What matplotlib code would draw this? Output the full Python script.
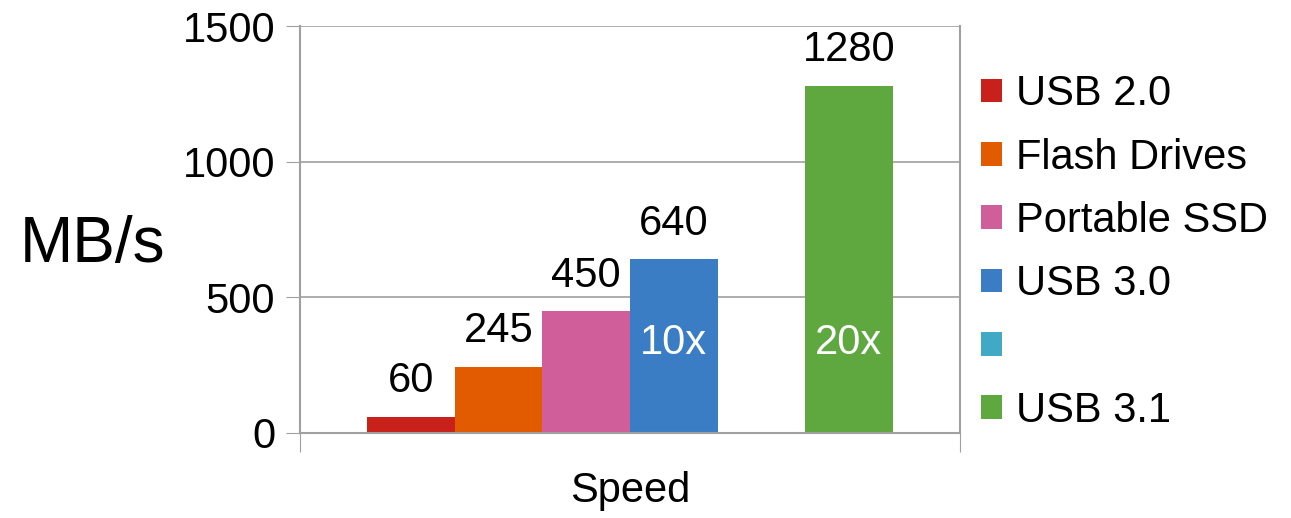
import matplotlib.pyplot as plt

plt.rcParams['font.family'] = ['Liberation Sans', 'DejaVu Sans']

series = ['USB 2.0', 'Flash Drives', 'Portable SSD', 'USB 3.0', '', 'USB 3.1']
speeds = [60, 245, 450, 640, 0, 1280]
value_labels = ['60', '245', '450', '640', '', '1280']
inner_labels = ['', '', '', '10x', '', '20x']
colors = ['#C8201A', '#E35B00', '#CF5E9B', '#3A7DC5', '#41A9C6', '#5FA83F']
category = 'Speed'

fig = plt.figure(figsize=(12.91, 5.18), dpi=100)
ax = fig.add_axes([0.2324, 0.1641, 0.5112, 0.7857])

width = 0.1327
n = len(series)
for i, (name, val, col) in enumerate(zip(series, speeds, colors)):
    x = (i - (n - 1) / 2) * width
    bars = ax.bar(x, val, width=width, color=col, label=name if name else ' ', zorder=3)
    if value_labels[i]:
        ax.bar_label(bars, labels=[value_labels[i]], padding=11, fontsize=30)
    if inner_labels[i]:
        ax.text(x, 330, inner_labels[i], ha='center', va='center',
                color='white', fontsize=30, zorder=4)

ax.set_xlim(-0.5, 0.5)
ax.set_ylim(0, 1500)
ax.set_yticks([0, 500, 1000, 1500])
ax.tick_params(axis='y', labelsize=30, length=10, color='#A0A0A0', pad=8)
ax.set_xticks([-0.5, 0.5])
ax.set_xticklabels(['', ''])
ax.tick_params(axis='x', length=14, color='#A0A0A0')
ax.set_xlabel(category, fontsize=30, labelpad=10)
ax.set_ylabel('MB/s', fontsize=46, rotation=0, va='center', ha='center')
ax.yaxis.set_label_coords(-0.314, 0.462)
ax.grid(axis='y', color='#A0A0A0', linewidth=1.2, zorder=0)

for side in ['left', 'right', 'bottom']:
    ax.spines[side].set_color('#A0A0A0')
    ax.spines[side].set_linewidth(1.5)
ax.spines['top'].set_visible(False)
ax.spines['bottom'].set_zorder(5)

ax.legend(loc='center left', bbox_to_anchor=(0.7472, 0.5125), bbox_transform=fig.transFigure,
          frameon=False, fontsize=30, handlelength=0.5, handleheight=0.5,
          handletextpad=0.33, labelspacing=0.56, borderaxespad=0)

fig.savefig('out.png', dpi=100)
